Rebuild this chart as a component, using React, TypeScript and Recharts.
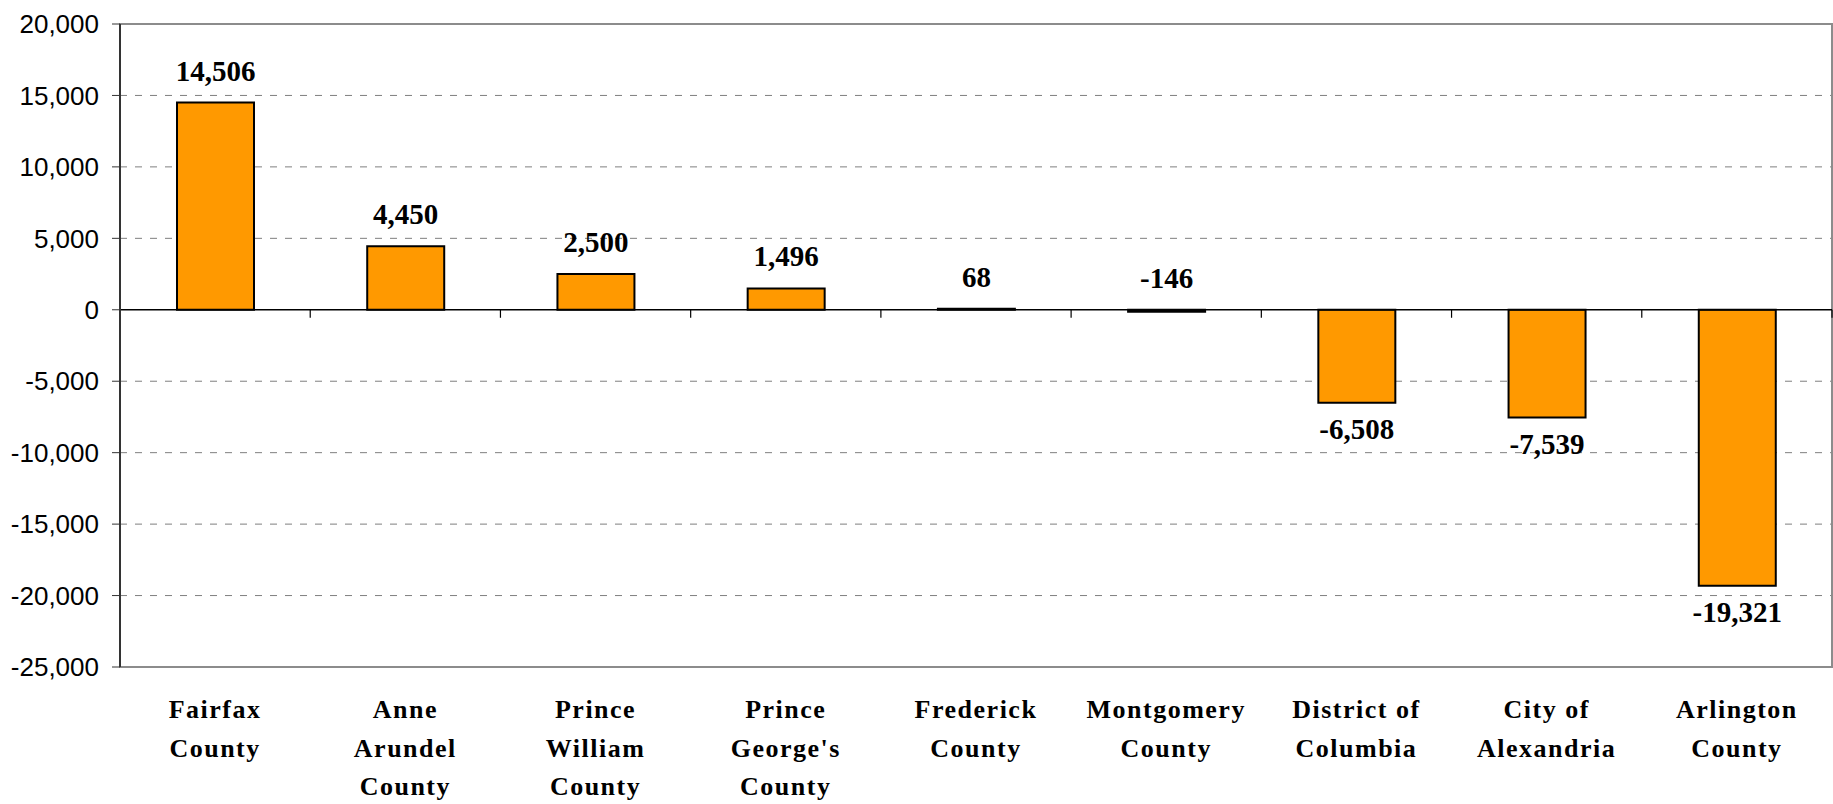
import React from "react";
import { BarChart, Bar, XAxis, YAxis, CartesianGrid, ReferenceLine, ReferenceArea, LabelList } from "recharts";

const categories = [
  "Fairfax\nCounty",
  "Anne\nArundel\nCounty",
  "Prince\nWilliam\nCounty",
  "Prince\nGeorge's\nCounty",
  "Frederick\nCounty",
  "Montgomery\nCounty",
  "District of\nColumbia",
  "City of\nAlexandria",
  "Arlington\nCounty",
];
const values = [14506, 4450, 2500, 1496, 68, -146, -6508, -7539, -19321];
const yTicks = [20000, 15000, 10000, 5000, 0, -5000, -10000, -15000, -20000, -25000];
const gridValues = [15000, 10000, 5000, -5000, -10000, -15000, -20000];

const data = categories.map((name, i) => ({ name, value: values[i] }));

const fmt = (v: number) => Number(v).toLocaleString("en-US");

const SERIF = "'Liberation Serif', 'Times New Roman', serif";
const SANS = "'Liberation Sans', Arial, sans-serif";

function CategoryTick({ x, y, payload }: any) {
  const lines = String(payload.value).split("\n");
  return (
    <text textAnchor="middle" fontFamily={SERIF} fontWeight="bold" fontSize={26} letterSpacing={1.5} fill="#000">
      {lines.map((l, i) => (
        <tspan key={i} x={x} y={y + 51 + i * 38.5}>
          {l}
        </tspan>
      ))}
    </text>
  );
}

function ValueLabel(props: any) {
  const vb = props.viewBox && props.viewBox.width != null ? props.viewBox : props;
  const { x, y, width, height } = vb;
  const v = Number(props.value);
  const top = Math.min(y, y + height);
  const bottom = Math.max(y, y + height);
  const cx = x + width / 2;
  const ty = v > -1000 ? top - 22 : bottom + 36;
  return (
    <text x={cx} y={ty} textAnchor="middle" fontFamily={SERIF} fontWeight="bold" fontSize={29} fill="#000">
      {fmt(v)}
    </text>
  );
}

// zero line with tick marks at the category boundaries
function ZeroLine(props: any) {
  const { x1, y1, x2, y2 } = props;
  const step = (x2 - x1) / categories.length;
  const ticks = [];
  for (let i = 1; i <= categories.length; i++) {
    const tx = x1 + i * step;
    ticks.push(<line key={i} x1={tx} x2={tx} y1={y1} y2={y1 + 8} stroke="#000" strokeWidth={1.2} />);
  }
  return (
    <g>
      <line x1={x1} y1={y1} x2={x2} y2={y2} stroke="#000" strokeWidth={1.5} />
      {ticks}
    </g>
  );
}

export default function App() {
  return (
    <div style={{ width: 1833, height: 804, background: "#fff" }}>
      <style>{`body{margin:0;background:#fff}`}</style>
      <BarChart width={1833} height={804} data={data} margin={{ top: 24, right: 1, bottom: 0, left: 0 }}>
        <CartesianGrid vertical={false} horizontalValues={gridValues} stroke="#7f7f7f" strokeDasharray="7 8" />
        <ReferenceArea y1={-25000} y2={20000} fill="none" fillOpacity={0} stroke="#8c8c8c" strokeWidth={2} ifOverflow="visible" />
        <XAxis
          dataKey="name"
          interval={0}
          axisLine={false}
          tickLine={false}
          tickSize={0}
          tickMargin={0}
          height={137}
          tick={<CategoryTick />}
        />
        <YAxis
          width={120}
          domain={[-25000, 20000]}
          ticks={yTicks}
          interval={0}
          tickFormatter={fmt}
          tickSize={8}
          tickMargin={13}
          axisLine={{ stroke: "#333", strokeWidth: 2 }}
          tickLine={{ stroke: "#333" }}
          tick={{ fontSize: 26, fill: "#000", fontFamily: SANS }}
        />
        <ReferenceLine y={0} shape={<ZeroLine />} ifOverflow="visible" />
        <Bar dataKey="value" fill="#FF9900" stroke="#000" strokeWidth={2} barSize={77} isAnimationActive={false}>
          <LabelList dataKey="value" content={<ValueLabel />} />
        </Bar>
      </BarChart>
    </div>
  );
}
